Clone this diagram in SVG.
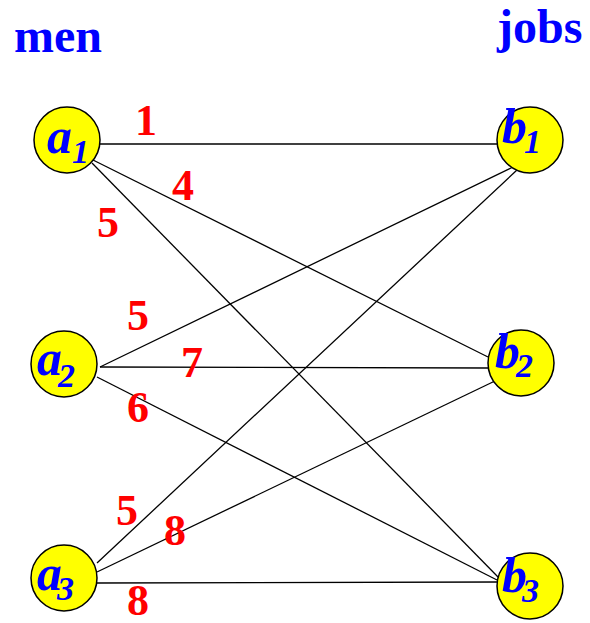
<svg xmlns="http://www.w3.org/2000/svg" width="590" height="623" viewBox="0 0 590 623">
<style>
.hdr{font-family:"Liberation Serif",serif;font-weight:bold;font-size:48px;fill:#0000ff}
.w{font-family:"Liberation Serif",serif;font-weight:bold;font-size:44px;fill:#ff0000;text-anchor:middle}
.nd circle{fill:#ffff00;stroke:#000;stroke-width:1.5}
.lb{font-family:"Liberation Serif",serif;font-weight:bold;font-style:italic;font-size:50px;fill:#0000ff}
.sb{font-family:"Liberation Serif",serif;font-weight:bold;font-style:italic;font-size:34px;fill:#0000ff}
#edges line{stroke:#000;stroke-width:1.3}
</style>
<rect width="590" height="623" fill="#fff"/>
<text class="hdr" x="14" y="52">men</text>
<text class="hdr" x="497" y="43">jobs</text>
<g id="edges">
<line x1="100" y1="144" x2="497" y2="144"/>
<line x1="93" y1="160" x2="488" y2="357"/>
<line x1="92" y1="163" x2="499" y2="578"/>
<line x1="100" y1="367" x2="513" y2="167"/>
<line x1="100" y1="367" x2="488" y2="368"/>
<line x1="97" y1="377" x2="497" y2="580"/>
<line x1="97" y1="563" x2="517" y2="170"/>
<line x1="97" y1="572" x2="497" y2="380"/>
<line x1="97" y1="583" x2="497" y2="582"/>
</g>
<g id="weights">
<text class="w" x="146" y="135">1</text>
<text class="w" x="183" y="200">4</text>
<text class="w" x="108" y="237">5</text>
<text class="w" x="138" y="330">5</text>
<text class="w" x="192" y="377">7</text>
<text class="w" x="138" y="422">6</text>
<text class="w" x="127" y="525">5</text>
<text class="w" x="175" y="545">8</text>
<text class="w" x="138" y="615">8</text>
</g>
<g id="a1" class="nd"><circle cx="67" cy="140" r="33"/><text class="lb" x="47" y="153">a</text><text class="sb" x="72" y="163">1</text></g>
<g id="a2" class="nd"><circle cx="64" cy="364" r="33"/><text class="lb" x="37" y="375">a</text><text class="sb" x="58" y="387">2</text></g>
<g id="a3" class="nd"><circle cx="64" cy="578" r="33"/><text class="lb" x="37" y="590">a</text><text class="sb" x="57" y="600">3</text></g>
<g id="b1" class="nd"><circle cx="530" cy="140" r="33"/><text class="lb" x="502" y="143">b</text><text class="sb" x="524" y="153">1</text></g>
<g id="b2" class="nd"><circle cx="521" cy="363" r="33"/><text class="lb" x="495" y="368">b</text><text class="sb" x="516" y="377">2</text></g>
<g id="b3" class="nd"><circle cx="530" cy="586" r="33"/><text class="lb" x="502" y="592">b</text><text class="sb" x="522" y="602">3</text></g>
</svg>
